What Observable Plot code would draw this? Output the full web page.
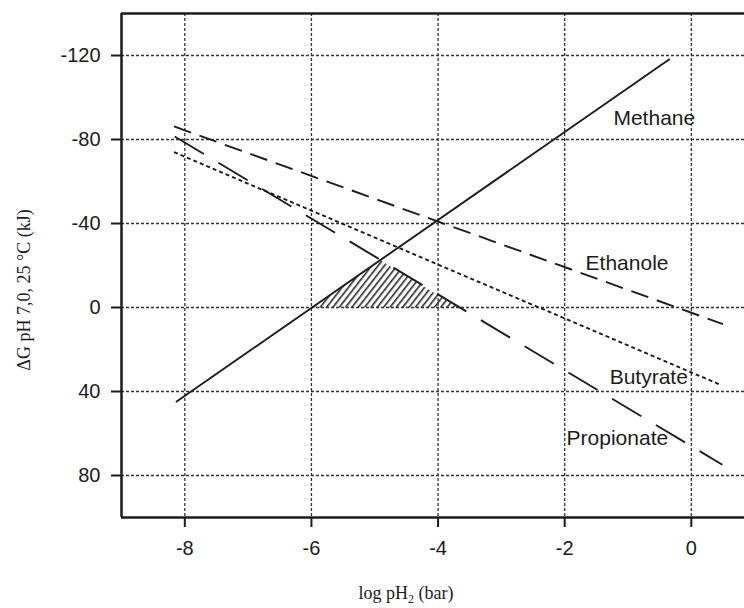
<!DOCTYPE html>
<html>
<head>
<meta charset="utf-8">
<script src="https://cdn.jsdelivr.net/npm/d3@7"></script>
<script src="https://cdn.jsdelivr.net/npm/@observablehq/plot@0.6"></script>
<style>
  html, body { margin: 0; padding: 0; background: #fff; }
  #chart { width: 744px; height: 608px; overflow: hidden; }
</style>
</head>
<body>
<div id="chart"></div>
<script>
// ---- data ----
const xTicks = [-8, -6, -4, -2, 0];
const yTicks = [-120, -80, -40, 0, 40, 80];
const seriesNames = ["Methane", "Ethanole", "Butyrate", "Propionate"];
const startX = [-8.14, -8.17, -8.17, -8.16];
const startY = [45, -86.2, -74, -81.4];
const endX = [-0.34, 0.50, 0.46, 0.49];
const endY = [-118.3, 7.9, 36.8, 74.9];
const labelX = [-1.23, -1.67, -1.29, -1.97];
const labelY = [-90.3, -21.3, 33.3, 62.5];
const hatchX = [-6, -4.91, -3.68];
const hatchY = [0, -22.5, 0];
const xLabel = "log pH";
const yLabel = "\u0394G pH 7,0, 25 \u00b0C (kJ)";

// ---- derived tables ----
const segments = seriesNames.map((name, i) => ({name, x1: startX[i], y1: startY[i], x2: endX[i], y2: endY[i]}));
const labels = seriesNames.map((name, i) => ({name, x: labelX[i], y: labelY[i]}));
const hatch = hatchX.map((x, i) => ({x, y: hatchY[i]}));

const dashes = {Methane: null, Ethanole: "18,9", Butyrate: "4,3", Propionate: "34,17"};
const ink = "#1c1c1c";
const sans = "'Liberation Sans', Arial, sans-serif";

const W = 744, H = 608;
const mL = 121, mT = 13, mB = 91, mR = 0;
const xDomain = [-9, 0.84];
const yDomain = [100, -140];

const lineMarks = segments.map(s => Plot.link([s], {
  x1: "x1", y1: "y1", x2: "x2", y2: "y2",
  stroke: ink, strokeWidth: 1.9,
  strokeDasharray: dashes[s.name] || undefined
}));

const chart = Plot.plot({
  width: W, height: H,
  marginLeft: mL, marginRight: mR, marginTop: mT, marginBottom: mB,
  style: {fontFamily: sans, background: "#fff", color: ink},
  x: {domain: xDomain},
  y: {domain: yDomain},
  marks: [
    Plot.gridX(xTicks, {stroke: "#333", strokeOpacity: 1, strokeWidth: 1.3, strokeDasharray: "3,2"}),
    Plot.gridY(yTicks, {stroke: "#333", strokeOpacity: 1, strokeWidth: 1.3, strokeDasharray: "3,2"}),
    Plot.line(hatch, {x: "x", y: "y", fill: "url(#hatch)", stroke: "none"}),
    ...lineMarks,
    Plot.text(labels, {x: "x", y: "y", text: "name", textAnchor: "start", fontSize: 21, fill: ink, fontFamily: sans}),
    Plot.ruleX([xDomain[0]], {stroke: ink, strokeWidth: 2.5}),
    Plot.ruleY([yDomain[0]], {stroke: ink, strokeWidth: 2.5}),
    Plot.ruleY([yDomain[1]], {stroke: ink, strokeWidth: 2.5}),
    Plot.axisX(xTicks, {tickSize: 10, tickPadding: 13, strokeWidth: 2, fontSize: 20, label: null, tickFormat: d => String(d), fill: ink, stroke: ink}),
    Plot.axisY(yTicks, {tickSize: 10, tickPadding: 11, strokeWidth: 2, fontSize: 20, label: null, tickFormat: d => String(d), fill: ink, stroke: ink})
  ]
});

const svg = d3.select(chart);
const defs = svg.insert("defs", ":first-child");
const pat = defs.append("pattern")
  .attr("id", "hatch")
  .attr("patternUnits", "userSpaceOnUse")
  .attr("width", 5).attr("height", 5)
  .attr("patternTransform", "rotate(38)");
pat.append("line").attr("x1", 0.8).attr("y1", 0).attr("x2", 0.8).attr("y2", 5)
  .attr("stroke", ink).attr("stroke-width", 1.5);

// axis titles (serif, as in the reference)
const xt = svg.append("text")
  .attr("x", 406).attr("y", 599)
  .attr("text-anchor", "middle")
  .attr("font-family", "'Liberation Serif', 'Times New Roman', serif")
  .attr("font-size", 18).attr("fill", ink);
xt.append("tspan").text(xLabel);
xt.append("tspan").attr("font-size", 12).attr("dy", 4).text("2");
xt.append("tspan").attr("dy", -4).text(" (bar)");

svg.append("text")
  .attr("transform", "translate(30,290) rotate(-90)")
  .attr("text-anchor", "middle")
  .attr("font-family", "'Liberation Serif', 'Times New Roman', serif")
  .attr("font-size", 18).attr("fill", ink)
  .text(yLabel);

document.getElementById("chart").append(chart);
</script>
</body>
</html>
